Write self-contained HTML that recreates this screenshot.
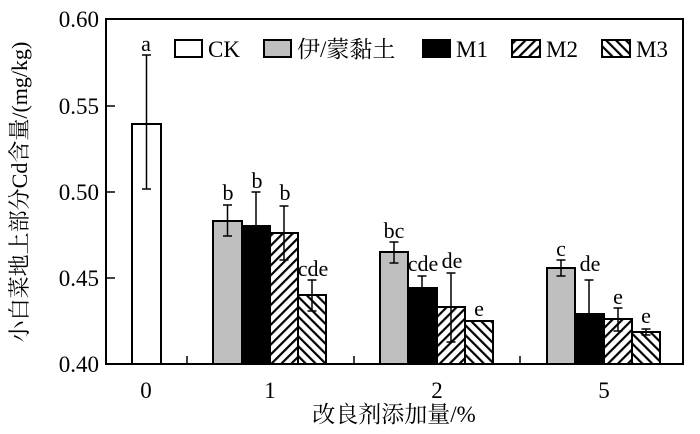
<!DOCTYPE html>
<html><head><meta charset="utf-8"><style>
html,body{margin:0;padding:0;background:#fff;}
svg text{font-family:"Liberation Serif","Noto Serif CJK SC",serif;fill:#000;}
</style></head><body>
<svg width="700" height="429" viewBox="0 0 700 429" xmlns="http://www.w3.org/2000/svg">
<defs>
<pattern id="p2" patternUnits="userSpaceOnUse" width="7" height="7" patternTransform="rotate(45)">
<rect width="7" height="7" fill="#fff"/><rect x="0" y="0" width="2.2" height="7" fill="#000"/></pattern>
<pattern id="p3" patternUnits="userSpaceOnUse" width="7" height="7" patternTransform="rotate(-45)">
<rect width="7" height="7" fill="#fff"/><rect x="0" y="0" width="2.2" height="7" fill="#000"/></pattern>
</defs>
<g stroke="#000" stroke-width="2">
<rect x="132" y="124" width="29" height="240" fill="#fff"/>
<rect x="213" y="221" width="29" height="143" fill="#bfbfbf"/>
<rect x="242" y="226" width="28" height="138" fill="#000"/>
<rect x="270" y="233" width="28" height="131" fill="url(#p2)"/>
<rect x="298" y="295" width="28" height="69" fill="url(#p3)"/>
<rect x="380" y="252" width="28" height="112" fill="#bfbfbf"/>
<rect x="408" y="288" width="29" height="76" fill="#000"/>
<rect x="437" y="307" width="28" height="57" fill="url(#p2)"/>
<rect x="465" y="321" width="28" height="43" fill="url(#p3)"/>
<rect x="547" y="268" width="28" height="96" fill="#bfbfbf"/>
<rect x="575" y="314" width="29" height="50" fill="#000"/>
<rect x="604" y="319" width="28" height="45" fill="url(#p2)"/>
<rect x="632" y="332" width="28" height="32" fill="url(#p3)"/>
</g>
<g stroke="#000" stroke-width="1.5" fill="none">
<path d="M146.5 55V189M142 55h9M142 189h9"/>
<path d="M227.5 205V236M223 205h9M223 236h9"/>
<path d="M256 192V226M251.5 192h9"/>
<path d="M284 206V260M279.5 206h9M279.5 260h9"/>
<path d="M312 280V311M307.5 280h9M307.5 311h9"/>
<path d="M394 242V263M389.5 242h9M389.5 263h9"/>
<path d="M422 276V288M417.5 276h9"/>
<path d="M451 273V342M446.5 273h9M446.5 342h9"/>
<path d="M470 321h18"/>
<path d="M561 260V276M556.5 260h9M556.5 276h9"/>
<path d="M589 280V314M584.5 280h9"/>
<path d="M618 308V331M613.5 308h9M613.5 331h9"/>
<path d="M646 329V335M641.5 329h9M641.5 335h9"/>
</g>
<rect x="106" y="19" width="577" height="345" fill="none" stroke="#000" stroke-width="2"/>
<g stroke="#000" stroke-width="1.5">
<path d="M106 106h9M106 192h9M106 278h9"/>
<path d="M187 364v-8M354 364v-8M520 364v-8"/>
</g>
<g font-size="23" text-anchor="end">
<text x="99" y="27">0.60</text><text x="99" y="114">0.55</text>
<text x="99" y="200">0.50</text><text x="99" y="286">0.45</text><text x="99" y="372">0.40</text>
</g>
<g font-size="23" text-anchor="middle">
<text x="146" y="398">0</text><text x="270" y="398">1</text><text x="437" y="398">2</text><text x="604" y="398">5</text>
<text x="394" y="422">改良剂添加量/%</text>
</g>
<text transform="translate(27,192) rotate(-90)" font-size="22" text-anchor="middle">小白菜地上部分Cd含量/(mg/kg)</text>
<g font-size="22" text-anchor="middle">
<text x="146" y="51">a</text>
<text x="228" y="200">b</text><text x="257" y="188">b</text><text x="285" y="200">b</text>
<text x="313" y="276">cde</text>
<text x="394" y="238">bc</text><text x="423" y="271">cde</text><text x="452" y="268">de</text><text x="479" y="316">e</text>
<text x="561" y="256">c</text><text x="590" y="271">de</text><text x="618" y="304">e</text><text x="646" y="323">e</text>
</g>
<g stroke="#000" stroke-width="2">
<rect x="175" y="40" width="27" height="17" fill="#fff"/>
<rect x="264" y="40" width="27" height="17" fill="#bfbfbf"/>
<rect x="423" y="40" width="27" height="17" fill="#000"/>
<rect x="512" y="40" width="28" height="17" fill="url(#p2)"/>
<rect x="602" y="40" width="28" height="17" fill="url(#p3)"/>
</g>
<g font-size="23">
<text x="208" y="57">CK</text><text x="297" y="57">伊/蒙黏土</text>
<text x="456" y="57">M1</text><text x="546" y="57">M2</text><text x="636" y="57">M3</text>
</g>
</svg>
</body></html>
